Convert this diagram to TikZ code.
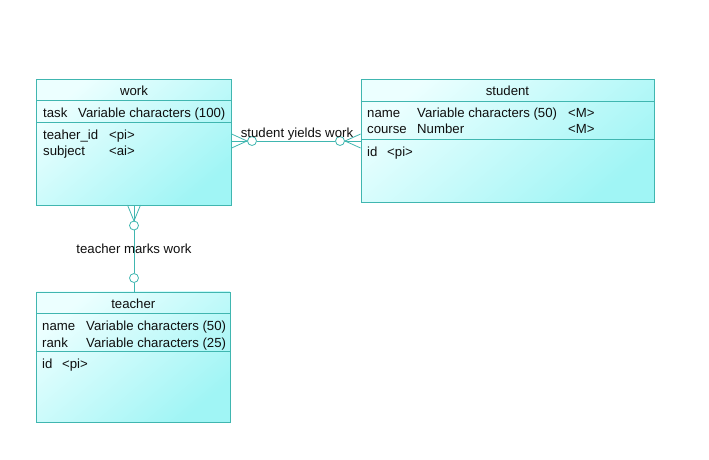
\documentclass[tikz,border=0pt]{standalone}
\usepackage{fontspec}
\setmainfont{Liberation Sans}
\usetikzlibrary{calc}
\definecolor{edge}{RGB}{64,182,176}
\definecolor{fillA}{RGB}{236,255,255}
\definecolor{fillB}{RGB}{160,245,245}
\definecolor{ink}{RGB}{15,15,15}
\begin{document}
\begin{tikzpicture}[x=1pt,y=-1pt,
  every node/.style={font=\fontsize{13.2}{15}\selectfont, text=ink, inner sep=0pt},
  entity/.style={draw=edge, line width=0.8pt, top color=fillA, bottom color=fillB, shading angle=40, rectangle, inner sep=0pt},
  sepline/.style={draw=edge, line width=0.8pt},
  conn/.style={draw=edge, line width=0.8pt},
  lbl/.style={anchor=base west},
  ttl/.style={anchor=base},
  knob/.style={circle, draw=edge, line width=0.8pt, fill=white, minimum size=9pt, inner sep=0pt}
]
\useasboundingbox (0,0) rectangle (709,459);

% ---------- work ----------
\node[entity, minimum width=194.5pt, minimum height=125.5pt] (work) at (134,142.2) {};
\draw[sepline] (work.west |- 0,100) -- (work.east |- 0,100);
\draw[sepline] (work.west |- 0,122.3) -- (work.east |- 0,122.3);
\node[ttl] (workT) at (134,95) {work};
\node[lbl] (w1a) at (43,117) {task};
\node[lbl] (w1b) at (78,117) {Variable characters (100)};
\node[lbl] (w2a) at (43,139) {teaher\_id};
\node[lbl] (w2b) at (109,139) {<pi>};
\node[lbl] (w3a) at (43,155) {subject};
\node[lbl] (w3b) at (109,155) {<ai>};

% ---------- student ----------
\node[entity, minimum width=293pt, minimum height=123.3pt] (student) at (507.5,140.7) {};
\draw[sepline] (student.west |- 0,101) -- (student.east |- 0,101);
\draw[sepline] (student.west |- 0,139) -- (student.east |- 0,139);
\node[ttl] (studentT) at (507.5,95) {student};
\node[lbl] (s1a) at (367,117) {name};
\node[lbl] (s1b) at (417,117) {Variable characters (50)};
\node[lbl] (s1c) at (568,117) {<M>};
\node[lbl] (s2a) at (367,133) {course};
\node[lbl] (s2b) at (417,133) {Number};
\node[lbl] (s2c) at (568,133) {<M>};
\node[lbl] (s3a) at (367,156) {id};
\node[lbl] (s3b) at (387,156) {<pi>};

% ---------- teacher ----------
\node[entity, minimum width=193.3pt, minimum height=130.7pt] (teacher) at (133.3,357.3) {};
\draw[sepline] (teacher.west |- 0,313.3) -- (teacher.east |- 0,313.3);
\draw[sepline] (teacher.west |- 0,351.7) -- (teacher.east |- 0,351.7);
\node[ttl] (teacherT) at (133.3,308) {teacher};
\node[lbl] (t1a) at (42,330) {name};
\node[lbl] (t1b) at (86,330) {Variable characters (50)};
\node[lbl] (t2a) at (42,347) {rank};
\node[lbl] (t2b) at (86,347) {Variable characters (25)};
\node[lbl] (t3a) at (42,368) {id};
\node[lbl] (t3b) at (62,368) {<pi>};

% ---------- student yields work ----------
\coordinate (wE) at (work.east |- 0,141);
\coordinate (sW) at (student.west |- 0,141);
\coordinate (wFoot) at (247,141);
\coordinate (sFoot) at (345,141);
\node[knob] (wK) at (252,141) {};
\node[knob] (sK) at (340,141) {};
\draw[conn] ($(wE)+(0,-7)$) -- (wFoot) -- ($(wE)+(0,7)$);
\draw[conn] (wE) -- (wK);
\draw[conn] (wK) -- (sK);
\draw[conn] ($(sW)+(0,-7)$) -- (sFoot) -- ($(sW)+(0,7)$);
\draw[conn] (sK) -- (sW);
\node[anchor=base] (rel1) at (297,137) {student yields work};

% ---------- teacher marks work ----------
\coordinate (wS) at (134,205);
\coordinate (tN) at (134,292);
\coordinate (vFoot) at (134,221);
\node[knob] (vK1) at (134,225.5) {};
\node[knob] (vK2) at (134,278) {};
\draw[conn] ($(wS)+(-6.5,0)$) -- (vFoot) -- ($(wS)+(6.5,0)$);
\draw[conn] (wS) -- (vK1);
\draw[conn] (vK1) -- (vK2);
\draw[conn] (vK2) -- (tN);
\node[anchor=base] (rel2) at (134,253) {teacher marks work};
\end{tikzpicture}
\end{document}
